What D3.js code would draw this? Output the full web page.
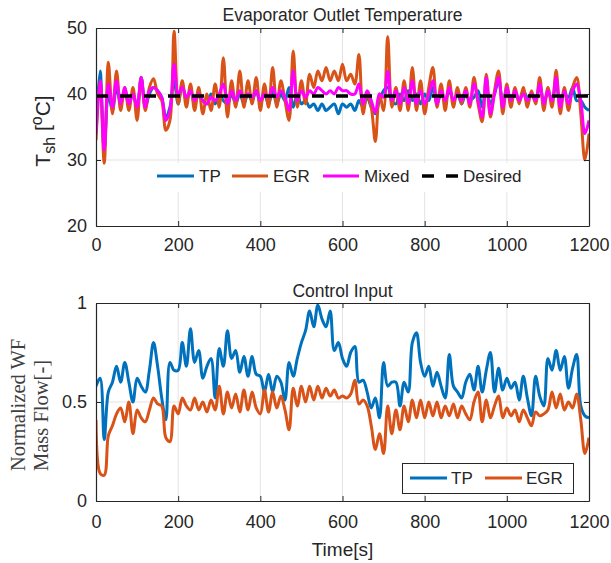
<!DOCTYPE html>
<html>
<head>
<meta charset="utf-8">
<script src="https://cdn.jsdelivr.net/npm/d3@7"></script>
<style>
  body { margin: 0; background: #fff; }
  svg text { font-family: "Liberation Sans", Arial, Helvetica, sans-serif; fill: #262626; }
</style>
</head>
<body>
<div id="chart"></div>
<script>
// time axis, sampled every 10 s
const time = d3.range(0, 1201, 10);

// Evaporator outlet temperature [degC]
const tempTP = [35, 43.5, 31.5, 40, 37.5, 41, 38.5, 40.5, 38.5, 40, 38, 42.5, 38, 40, 41, 40.5, 39.5, 36.5, 38, 42,
  38.5, 41.5, 39, 40.5, 38.5, 40, 39, 38.5, 40, 38.5, 40, 39, 38.5, 40, 38.5, 40, 38.5, 40, 39, 40.5,
  38.5, 40, 38.5, 40.5, 38.5, 40, 39, 41, 38, 40, 38.5, 39, 38, 38.5, 37.5, 38.5, 37.5, 38, 38.5, 37,
  38.5, 38, 38.5, 37.5, 39, 38, 39.5, 38, 37, 39, 40.5, 41, 39, 38.5, 40, 39, 40.5, 39, 40, 38.5,
  40, 39, 41, 38.5, 40, 39, 40.5, 39, 40, 38.5, 40, 39, 39.5, 40.5, 38, 41, 38.5, 40, 42, 39,
  40.5, 39, 40, 39, 40.5, 39.5, 40, 39, 41, 39, 40, 39.5, 41, 39, 40, 39.5, 41, 39, 39, 38, 37.5];
const tempEGR = [33, 42, 29.5, 44.8, 37, 43.5, 37.5, 41, 37.5, 41, 36, 42.5, 37.5, 41, 42.3, 40, 39, 34.5, 36, 49.5,
  38.5, 42, 38, 41.5, 37.5, 41, 37, 40, 37.5, 41.5, 38, 45.5, 36.5, 42, 38, 43.5, 38, 42, 38.5, 42.5,
  37.5, 41.5, 38, 44, 38, 42, 39, 36, 46.5, 38, 42, 38.5, 43, 41, 43.5, 42, 44, 42, 43.5, 42,
  44.5, 42, 43, 41.5, 46, 37, 40, 38, 32.8, 40, 37.5, 48.7, 38, 41, 37.5, 42, 37.5, 44, 37.5, 42,
  37, 41, 44, 38, 41.5, 37.5, 42, 38, 41, 38.5, 41, 38, 42.5, 38.5, 35.8, 43, 36.5, 40.5, 43.5, 37,
  41.5, 38, 41, 38.5, 41, 38, 40.5, 38.5, 42.5, 37.5, 41, 38, 43.6, 37, 41, 37.5, 41, 42.5, 37, 30, 34];
const tempMixed = [34, 42, 31.5, 41.5, 38, 42, 38.5, 41, 38.5, 40, 38, 42.5, 38, 40.5, 41, 40.5, 39.5, 36, 37.5, 44.5,
  40, 41, 39.5, 40.5, 39, 40, 39, 38.5, 39.5, 39, 40, 41.5, 38.5, 40.5, 39, 40.5, 39.5, 40, 39.5, 40.5,
  39, 40, 39.5, 41, 39.5, 40.5, 39.5, 37.5, 43.5, 39, 40.5, 39.5, 40.5, 40, 41, 40.5, 40, 40.5, 40, 41,
  40.5, 40.5, 40, 40, 41.5, 38.5, 40.5, 39, 37.2, 40, 39.5, 43.4, 39, 40.5, 38.5, 41, 38.5, 42, 38.5, 40.5,
  38.5, 40, 42, 38.5, 40.5, 39, 41, 39, 40, 39, 40.5, 38.5, 41.5, 39, 36.5, 42.5, 37, 40, 42.5, 38,
  41, 39, 40.5, 39, 40, 39, 40, 39, 41.5, 38.5, 40.5, 39, 42.5, 38, 40.5, 38.5, 40.5, 41.5, 39, 34, 36];
const tempDesired = 39.7;

// Normalized working-fluid mass flow [-]
const flowTP = [0.58, 0.62, 0.31, 0.55, 0.60, 0.68, 0.60, 0.70, 0.60, 0.50, 0.62, 0.58, 0.55, 0.66, 0.80, 0.68, 0.52, 0.41, 0.70, 0.66,
  0.66, 0.80, 0.68, 0.87, 0.70, 0.76, 0.62, 0.68, 0.72, 0.52, 0.77, 0.68, 0.86, 0.72, 0.76, 0.65, 0.73, 0.63, 0.73, 0.64,
  0.63, 0.55, 0.64, 0.55, 0.63, 0.60, 0.51, 0.70, 0.63, 0.72, 0.80, 0.86, 0.96, 0.88, 0.99, 0.92, 0.88, 0.96, 0.76, 0.80,
  0.72, 0.68, 0.75, 0.78, 0.60, 0.61, 0.55, 0.47, 0.52, 0.42, 0.70, 0.58, 0.60, 0.60, 0.48, 0.60, 0.55, 0.80, 0.85, 0.70,
  0.63, 0.68, 0.58, 0.65, 0.58, 0.52, 0.74, 0.58, 0.55, 0.52, 0.60, 0.64, 0.56, 0.68, 0.55, 0.66, 0.75, 0.55, 0.67, 0.56,
  0.62, 0.57, 0.60, 0.51, 0.63, 0.52, 0.43, 0.63, 0.53, 0.48, 0.72, 0.66, 0.76, 0.66, 0.73, 0.57, 0.67, 0.74, 0.48, 0.43, 0.42];
const flowEGR = [0.41, 0.14, 0.13, 0.33, 0.38, 0.44, 0.47, 0.40, 0.50, 0.34, 0.46, 0.42, 0.40, 0.46, 0.52, 0.49, 0.48, 0.32, 0.30, 0.48,
  0.44, 0.52, 0.48, 0.46, 0.52, 0.46, 0.50, 0.45, 0.51, 0.46, 0.58, 0.44, 0.55, 0.47, 0.54, 0.45, 0.56, 0.46, 0.55, 0.47,
  0.44, 0.56, 0.45, 0.55, 0.47, 0.53, 0.46, 0.36, 0.57, 0.48, 0.58, 0.50, 0.58, 0.51, 0.58, 0.52, 0.57, 0.53, 0.56, 0.52,
  0.53, 0.52, 0.54, 0.61, 0.49, 0.51, 0.48, 0.38, 0.26, 0.34, 0.24, 0.48, 0.34, 0.46, 0.36, 0.48, 0.40, 0.51, 0.42, 0.51,
  0.42, 0.50, 0.43, 0.50, 0.42, 0.48, 0.43, 0.49, 0.42, 0.48, 0.44, 0.41, 0.50, 0.55, 0.40, 0.51, 0.42, 0.48, 0.53, 0.42,
  0.47, 0.43, 0.46, 0.40, 0.46, 0.42, 0.38, 0.45, 0.43, 0.44, 0.46, 0.55, 0.47, 0.54, 0.46, 0.50, 0.47, 0.54, 0.41, 0.24, 0.32];

const xTicks = [0, 200, 400, 600, 800, 1000, 1200];
const tempTicks = [20, 30, 40, 50];
const flowTicks = [0, 0.5, 1];
const tempNames = ["TP", "EGR", "Mixed", "Desired"];
const flowNames = ["TP", "EGR"];

const colors = {TP: "#0072BD", EGR: "#D95319", Mixed: "#FF00FF", Desired: "#000000"};
const axisColor = "#262626";

const width = 611, height = 563;
const svg = d3.select("#chart").append("svg")
    .attr("width", width)
    .attr("height", height);

const x = d3.scaleLinear().domain([0, 1200]).range([96, 589]);
const yTemp = d3.scaleLinear().domain([20, 50]).range([226, 28]);
const yFlow = d3.scaleLinear().domain([0, 1]).range([501, 303]);

// Draws grid and clip area; returns a function that draws the box, ticks and labels on top
function drawAxes(y, yTickVals, yFmt, xPad, id) {
    const [y0, y1] = y.range();
    const g = svg.append("g");

    // grid
    g.selectAll(".gx").data(xTicks.slice(1, -1)).enter().append("line")
        .attr("x1", d => x(d)).attr("x2", d => x(d))
        .attr("y1", y1).attr("y2", y0)
        .attr("stroke", "#e3e3e3").attr("stroke-width", 1);
    g.selectAll(".gy").data(yTickVals.slice(1, -1)).enter().append("line")
        .attr("x1", x.range()[0]).attr("x2", x.range()[1])
        .attr("y1", d => y(d)).attr("y2", d => y(d))
        .attr("stroke", "#e3e3e3").attr("stroke-width", 1);

    svg.append("clipPath").attr("id", id)
        .append("rect")
        .attr("x", x.range()[0]).attr("y", y1)
        .attr("width", x.range()[1] - x.range()[0]).attr("height", y0 - y1);

    return function finish() {
        const a = svg.append("g");
        a.append("g").attr("transform", `translate(0,${y0})`)
            .call(d3.axisBottom(x).tickValues(xTicks).tickSize(-5).tickPadding(xPad)
                .tickFormat(d3.format("d")).tickSizeOuter(0));
        a.append("g").attr("transform", `translate(0,${y1})`)
            .call(d3.axisTop(x).tickValues(xTicks).tickSize(-5).tickFormat("").tickSizeOuter(0));
        a.append("g").attr("transform", `translate(${x.range()[0]},0)`)
            .call(d3.axisLeft(y).tickValues(yTickVals).tickSize(-5).tickPadding(9).tickFormat(yFmt).tickSizeOuter(0));
        a.append("g").attr("transform", `translate(${x.range()[1]},0)`)
            .call(d3.axisRight(y).tickValues(yTickVals).tickSize(-5).tickFormat("").tickSizeOuter(0));
        a.selectAll(".domain").attr("stroke", axisColor).attr("stroke-width", 1.2);
        a.selectAll(".tick line").attr("stroke", axisColor);
        a.selectAll(".tick text").attr("fill", axisColor).style("font-size", "18px")
            .style("font-family", "'Liberation Sans', Arial, sans-serif");
    };
}

function drawLine(values, y, clipId, color, w) {
    const line = d3.line()
        .x((d, i) => x(time[i]))
        .y(d => y(d))
        .curve(d3.curveCatmullRom.alpha(0.5));
    svg.append("path")
        .datum(values)
        .attr("clip-path", `url(#${clipId})`)
        .attr("fill", "none")
        .attr("stroke", color)
        .attr("stroke-width", w)
        .attr("stroke-linejoin", "round")
        .attr("d", line);
}

// ---------- Top panel: evaporator outlet temperature ----------
const finishTop = drawAxes(yTemp, tempTicks, d3.format("d"), 12, "clipTop");
drawLine(tempTP, yTemp, "clipTop", colors.TP, 3);
drawLine(tempEGR, yTemp, "clipTop", colors.EGR, 3);
drawLine(tempMixed, yTemp, "clipTop", colors.Mixed, 3);
svg.append("line")
    .attr("x1", x(0)).attr("x2", x(1200))
    .attr("y1", yTemp(tempDesired)).attr("y2", yTemp(tempDesired))
    .attr("stroke", "#000").attr("stroke-width", 3.5)
    .attr("stroke-dasharray", "12,12");

// legend (white background, no border)
const legTop = svg.append("g");
legTop.append("rect")
    .attr("x", 150).attr("y", 163).attr("width", 380).attr("height", 29)
    .attr("fill", "#fff");
const legTopItems = [
    {name: tempNames[0], x1: 157, x2: 194, tx: 199},
    {name: tempNames[1], x1: 232, x2: 268, tx: 273},
    {name: tempNames[2], x1: 323, x2: 359, tx: 364},
    {name: tempNames[3], x1: 422, x2: 458, tx: 463}
];
legTopItems.forEach(it => {
    legTop.append("line")
        .attr("x1", it.x1).attr("x2", it.x2).attr("y1", 176).attr("y2", 176)
        .attr("stroke", colors[it.name])
        .attr("stroke-width", it.name === "Desired" ? 3.5 : 3)
        .attr("stroke-dasharray", it.name === "Desired" ? "12,12" : null);
    legTop.append("text")
        .attr("x", it.tx).attr("y", 182)
        .style("font-size", "17px")
        .text(it.name);
});
finishTop();

svg.append("text")
    .attr("x", 342.5).attr("y", 21)
    .attr("text-anchor", "middle")
    .style("font-size", "17.5px")
    .text("Evaporator Outlet Temperature");

// y label: T_sh [oC]
const ylab = svg.append("text")
    .attr("transform", "translate(50,131) rotate(-90)")
    .attr("text-anchor", "middle")
    .style("font-size", "21px");
ylab.append("tspan").text("T");
ylab.append("tspan").attr("dy", 5).style("font-size", "16px").text("sh");
ylab.append("tspan").attr("dy", -5).text("\u00a0[");
ylab.append("tspan").attr("dy", -8).style("font-size", "16px").text("o");
ylab.append("tspan").attr("dy", 8).text("C]");

// ---------- Bottom panel: control input ----------
const finishBottom = drawAxes(yFlow, flowTicks, d => d === 0.5 ? "0.5" : d3.format("d")(d), 14, "clipBottom");
drawLine(flowTP, yFlow, "clipBottom", colors.TP, 3);
drawLine(flowEGR, yFlow, "clipBottom", colors.EGR, 3);

const legBot = svg.append("g");
legBot.append("rect")
    .attr("x", 402.5).attr("y", 463.5).attr("width", 171).attr("height", 30)
    .attr("fill", "#fff").attr("stroke", axisColor).attr("stroke-width", 1);
[{name: flowNames[0], x1: 410, x2: 447, tx: 451},
 {name: flowNames[1], x1: 485, x2: 522, tx: 526}].forEach(it => {
    legBot.append("line")
        .attr("x1", it.x1).attr("x2", it.x2).attr("y1", 478).attr("y2", 478)
        .attr("stroke", colors[it.name]).attr("stroke-width", 3);
    legBot.append("text")
        .attr("x", it.tx).attr("y", 484)
        .style("font-size", "17px")
        .text(it.name);
});
finishBottom();

svg.append("text")
    .attr("x", 342.5).attr("y", 297)
    .attr("text-anchor", "middle")
    .style("font-size", "17.5px")
    .text("Control Input");

svg.append("text")
    .attr("x", 342.5).attr("y", 556)
    .attr("text-anchor", "middle")
    .style("font-size", "19px")
    .text("Time[s]");

// serif two-line y label
["Normalized WF", "Mass Flow[-]"].forEach((t, i) => {
    svg.append("text")
        .attr("transform", `translate(${25 + i * 23},471) rotate(-90)`)
        .attr("text-anchor", "start")
        .style("font-family", "'Liberation Serif', 'Times New Roman', serif")
        .style("font-size", "20.5px")
        .style("fill", "#404040")
        .text(t);
});
</script>
</body>
</html>
